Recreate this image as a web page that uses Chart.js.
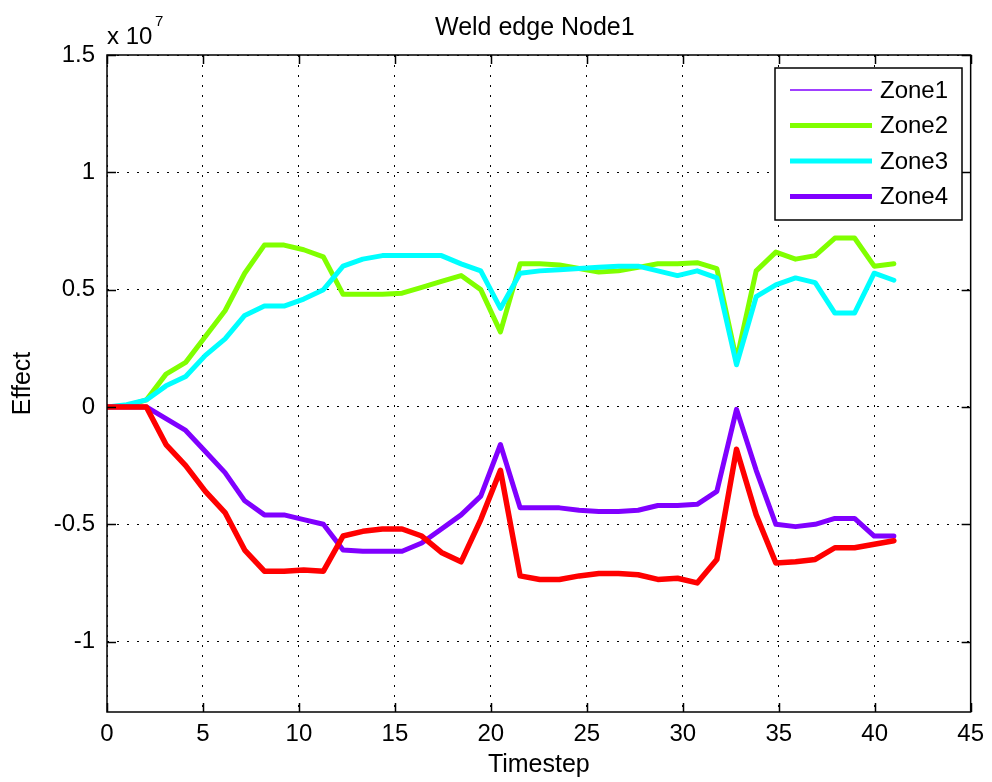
<!DOCTYPE html>
<html>
<head>
<meta charset="utf-8">
<title>Weld edge Node1</title>
<script src="https://cdn.jsdelivr.net/npm/chart.js@4/dist/chart.umd.min.js"></script>
<style>
  html, body { margin: 0; padding: 0; background: #ffffff; }
  #wrap { width: 992px; height: 782px; }
</style>
</head>
<body>
<div id="wrap"><canvas id="c" width="992" height="782"></canvas></div>
<script>
// Timesteps (41 samples from 0 to 41)
const timestep = [0, 1.025, 2.05, 3.075, 4.1, 5.125, 6.15, 7.175, 8.2, 9.225,
  10.25, 11.275, 12.3, 13.325, 14.35, 15.375, 16.4, 17.425, 18.45, 19.475,
  20.5, 21.525, 22.55, 23.575, 24.6, 25.625, 26.65, 27.675, 28.7, 29.725,
  30.75, 31.775, 32.8, 33.825, 34.85, 35.875, 36.9, 37.925, 38.95, 39.975, 41];

// Effect per zone, in units of 1e7
const zone1 = [0, 0, 0, -0.05, -0.10, -0.19, -0.28, -0.40, -0.46, -0.46,
  -0.48, -0.50, -0.61, -0.615, -0.615, -0.615, -0.58, -0.52, -0.46, -0.38,
  -0.16, -0.43, -0.43, -0.43, -0.44, -0.445, -0.445, -0.44, -0.42, -0.42,
  -0.415, -0.36, -0.01, -0.27, -0.50, -0.51, -0.50, -0.475, -0.475, -0.55, -0.55];
const zone2 = [0, 0.005, 0.03, 0.14, 0.19, 0.30, 0.41, 0.57, 0.69, 0.69,
  0.67, 0.64, 0.48, 0.48, 0.48, 0.485, 0.51, 0.535, 0.56, 0.50,
  0.32, 0.61, 0.61, 0.605, 0.59, 0.575, 0.58, 0.595, 0.61, 0.61,
  0.615, 0.59, 0.20, 0.58, 0.66, 0.63, 0.645, 0.72, 0.72, 0.60, 0.61];
const zone3 = [0, 0.01, 0.03, 0.09, 0.13, 0.22, 0.29, 0.39, 0.43, 0.43,
  0.46, 0.50, 0.60, 0.63, 0.645, 0.645, 0.645, 0.645, 0.61, 0.58,
  0.42, 0.57, 0.58, 0.585, 0.59, 0.595, 0.60, 0.60, 0.58, 0.56,
  0.58, 0.55, 0.18, 0.47, 0.52, 0.55, 0.53, 0.40, 0.40, 0.57, 0.54];
const zone4 = [0, 0, 0, -0.05, -0.10, -0.19, -0.28, -0.40, -0.46, -0.46,
  -0.48, -0.50, -0.61, -0.615, -0.615, -0.615, -0.58, -0.52, -0.46, -0.38,
  -0.16, -0.43, -0.43, -0.43, -0.44, -0.445, -0.445, -0.44, -0.42, -0.42,
  -0.415, -0.36, -0.01, -0.27, -0.50, -0.51, -0.50, -0.475, -0.475, -0.55, -0.55];
const zone5 = [0, 0, 0, -0.16, -0.25, -0.36, -0.45, -0.61, -0.70, -0.70,
  -0.695, -0.70, -0.55, -0.53, -0.52, -0.52, -0.55, -0.62, -0.66, -0.48,
  -0.27, -0.72, -0.735, -0.735, -0.72, -0.71, -0.71, -0.715, -0.735, -0.73,
  -0.75, -0.65, -0.18, -0.46, -0.665, -0.66, -0.65, -0.60, -0.60, -0.585, -0.57];

const xTicks = [0, 5, 10, 15, 20, 25, 30, 35, 40, 45];
const yTicks = [-1, -0.5, 0, 0.5, 1, 1.5];

const FONT = '"Liberation Sans", Arial, Helvetica, sans-serif';

function pts(ys) {
  return ys.map((y, i) => ({ x: timestep[i], y: y }));
}

// Axes box, inward ticks, exponent note, title and in-plot legend
const frame = {
  id: 'frame',
  afterDraw(chart) {
    const ctx = chart.ctx;
    const a = chart.chartArea;
    const xs = chart.scales.x, ys = chart.scales.y;
    const tl = 9;
    ctx.save();
    ctx.strokeStyle = '#000';
    ctx.lineWidth = 1.5;
    ctx.strokeRect(a.left, a.top, a.right - a.left, a.bottom - a.top);
    ctx.beginPath();
    xTicks.forEach(v => {
      const px = Math.round(xs.getPixelForValue(v)) + 0.5;
      ctx.moveTo(px, a.bottom); ctx.lineTo(px, a.bottom - tl);
      ctx.moveTo(px, a.top); ctx.lineTo(px, a.top + tl);
    });
    yTicks.forEach(v => {
      const py = Math.round(ys.getPixelForValue(v)) + 0.5;
      ctx.moveTo(a.left, py); ctx.lineTo(a.left + tl, py);
      ctx.moveTo(a.right, py); ctx.lineTo(a.right - tl, py);
    });
    ctx.stroke();

    // exponent note
    ctx.fillStyle = '#000';
    ctx.textAlign = 'left';
    ctx.textBaseline = 'alphabetic';
    ctx.font = '24px ' + FONT;
    ctx.fillText('x 10', a.left, 44);
    ctx.font = '15px ' + FONT;
    ctx.fillText('7', 155, 26);

    // title
    ctx.font = '25px ' + FONT;
    ctx.textAlign = 'center';
    ctx.fillText('Weld edge Node1', (a.left + a.right) / 2 - 4, 35);

    // legend
    const items = chart.data.datasets.filter(d => d.label);
    const bx = 775, by = 68, bw = 187, bh = 152;
    ctx.fillStyle = '#fff';
    ctx.fillRect(bx, by, bw, bh);
    ctx.lineWidth = 1.5;
    ctx.strokeStyle = '#000';
    ctx.strokeRect(bx, by, bw, bh);
    ctx.font = '24px ' + FONT;
    ctx.textAlign = 'left';
    ctx.textBaseline = 'middle';
    items.forEach((d, i) => {
      const ry = by + 22 + i * 35.5;
      ctx.beginPath();
      ctx.strokeStyle = d.borderColor;
      ctx.lineWidth = d.borderWidth;
      ctx.moveTo(790, ry); ctx.lineTo(872, ry);
      ctx.stroke();
      ctx.fillStyle = '#000';
      ctx.fillText(d.label, 880, ry + 1);
    });
    ctx.restore();
  }
};

const lineStyle = { pointRadius: 0, tension: 0, borderJoinStyle: 'round', borderCapStyle: 'round', fill: false };

new Chart(document.getElementById('c'), {
  type: 'line',
  data: {
    datasets: [
      Object.assign({ label: 'Zone1', data: pts(zone1), borderColor: '#8000ff', borderWidth: 1.5, order: 5 }, lineStyle),
      Object.assign({ label: 'Zone2', data: pts(zone2), borderColor: '#80ff00', borderWidth: 5, order: 4 }, lineStyle),
      Object.assign({ label: 'Zone3', data: pts(zone3), borderColor: '#00ffff', borderWidth: 5, order: 3 }, lineStyle),
      Object.assign({ label: 'Zone4', data: pts(zone4), borderColor: '#8000ff', borderWidth: 5, order: 2 }, lineStyle),
      Object.assign({ label: '', data: pts(zone5), borderColor: '#ff0000', borderWidth: 5.5, order: 1 }, lineStyle)
    ]
  },
  options: {
    responsive: false,
    animation: false,
    devicePixelRatio: 1,
    layout: { padding: { left: 0, right: 17, top: 55, bottom: 0 } },
    plugins: { legend: { display: false }, title: { display: false }, tooltip: { enabled: false } },
    scales: {
      x: {
        type: 'linear', min: 0, max: 45,
        afterFit: s => { s.height = 70; },
        afterBuildTicks: s => { s.ticks = xTicks.map(v => ({ value: v })); },
        ticks: { color: '#000', font: { family: FONT, size: 24 }, padding: 8, maxRotation: 0, autoSkip: false, callback: v => String(v) },
        grid: { color: '#000', lineWidth: 1, drawTicks: false },
        border: { display: false, dash: [2, 8] },
        title: { display: true, text: 'Timestep', color: '#000', font: { family: FONT, size: 25 }, padding: { top: 0, bottom: 2 } }
      },
      y: {
        type: 'linear', min: -1.3, max: 1.5,
        afterFit: s => { s.width = 107; },
        afterBuildTicks: s => { s.ticks = yTicks.map(v => ({ value: v })); },
        ticks: { color: '#000', font: { family: FONT, size: 24 }, padding: 12, autoSkip: false, callback: v => String(v) },
        grid: { color: '#000', lineWidth: 1, drawTicks: false },
        border: { display: false, dash: [2, 8] },
        title: { display: true, text: 'Effect', color: '#000', font: { family: FONT, size: 25 }, padding: { top: 8, bottom: 0 } }
      }
    }
  },
  plugins: [frame]
});
</script>
</body>
</html>
